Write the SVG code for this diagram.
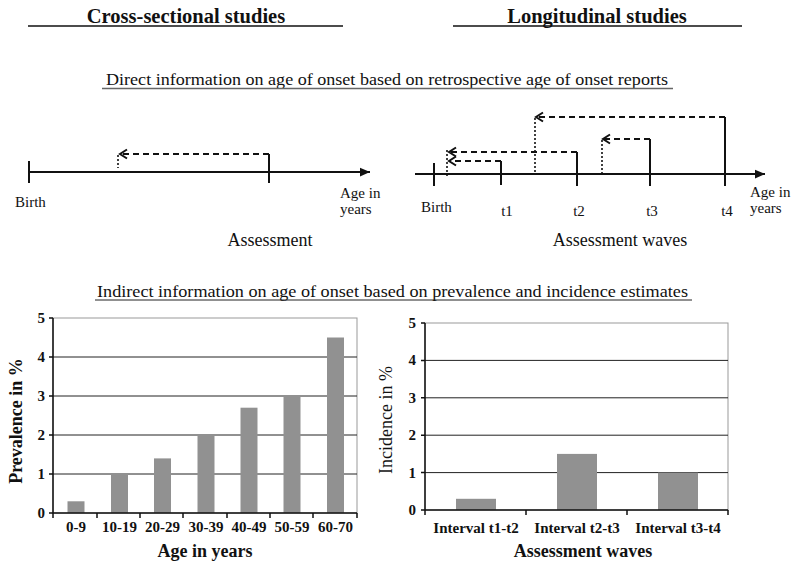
<svg xmlns="http://www.w3.org/2000/svg" width="800" height="571" viewBox="0 0 800 571" font-family="'Liberation Serif', 'Times New Roman', serif">
<style>
text{font-family:'Liberation Serif','Times New Roman',serif;fill:#111}
.title{font-size:20.5px;font-weight:bold;text-anchor:middle}
.sub{font-size:17px}
.lbl{font-size:15px}
.mid{text-anchor:middle}
.axis{stroke:#111;stroke-width:2;fill:none}
.dash{stroke:#111;stroke-width:2;stroke-dasharray:6,4;fill:none}
.dot{stroke:#111;stroke-width:1.6;stroke-dasharray:2,2;fill:none}
.grid{stroke:#222;stroke-width:1}
.frame{stroke:#999;stroke-width:1;fill:none}
.bar{fill:#919191}
.tickb{font-size:15px;font-weight:bold}
.ylab{font-size:15px;font-weight:bold;text-anchor:end}
.axt{font-size:18px;font-weight:bold;text-anchor:middle}
.cax{stroke:#111;stroke-width:1.5}
</style>
<defs>
<marker id="chev" markerUnits="userSpaceOnUse" markerWidth="12" markerHeight="12" viewBox="-8 -6 10 12" refX="0" refY="0" orient="auto" overflow="visible">
<path d="M-7,-4.5 L0,0 L-7,4.5" fill="none" stroke="#111" stroke-width="2"/>
</marker>
<marker id="tri" markerUnits="userSpaceOnUse" markerWidth="10" markerHeight="10" viewBox="-8 -4 8 8" refX="0" refY="0" orient="auto" overflow="visible">
<path d="M-8,-3.5 L0,0 L-8,3.5 Z" fill="#111"/>
</marker>
</defs>

<g id="headers">
<text class="title" x="186" y="23">Cross-sectional studies</text>
<line x1="28" y1="26" x2="343" y2="26" stroke="#111" stroke-width="1.5"/>
<text class="title" x="597" y="23">Longitudinal studies</text>
<line x1="453" y1="26" x2="742" y2="26" stroke="#111" stroke-width="1.5"/>
<text class="sub" x="106" y="85" textLength="562" lengthAdjust="spacingAndGlyphs">Direct information on age of onset based on retrospective age of onset reports</text>
<line x1="102" y1="88.5" x2="673" y2="88.5" stroke="#666" stroke-width="1.5"/>
<text class="sub" x="97" y="297" textLength="591" lengthAdjust="spacingAndGlyphs">Indirect information on age of onset based on prevalence and incidence estimates</text>
<line x1="95" y1="300" x2="692" y2="300" stroke="#222" stroke-width="1"/>
</g>

<g id="cross-timeline">
<line class="axis" x1="29" y1="172" x2="370" y2="172" marker-end="url(#tri)"/>
<line class="axis" x1="29" y1="161" x2="29" y2="183"/>
<line class="axis" x1="269" y1="154" x2="269" y2="183"/>
<text class="lbl" x="15" y="207">Birth</text>
<text class="lbl" x="340" y="198">Age in</text>
<text class="lbl" x="340" y="214">years</text>
<text class="mid" x="270" y="246" font-size="18">Assessment</text>
</g>

<g id="long-timeline">
<line class="axis" x1="415" y1="174" x2="765" y2="174" marker-end="url(#tri)"/>
<line class="axis" x1="434" y1="163" x2="434" y2="186"/>
<line class="axis" x1="501" y1="161" x2="501" y2="185"/>
<line class="axis" x1="577" y1="152" x2="577" y2="186"/>
<line class="axis" x1="650" y1="139" x2="650" y2="186"/>
<line class="axis" x1="725" y1="117" x2="725" y2="186"/>
<text class="lbl" x="421" y="212">Birth</text>
<text class="lbl mid" x="507" y="216">t1</text>
<text class="lbl mid" x="579" y="216">t2</text>
<text class="lbl mid" x="652" y="216">t3</text>
<text class="lbl mid" x="727" y="216">t4</text>
<text class="lbl" x="750" y="197">Age in</text>
<text class="lbl" x="750" y="213">years</text>
<text class="mid" x="620" y="246" font-size="18">Assessment waves</text>
</g>

<g id="connectors">
<path class="dash" d="M269,154 H120" marker-end="url(#chev)"/>
<path class="dot" d="M118,155 V168"/>
<path class="dash" d="M501,161 H449" marker-end="url(#chev)"/>
<path class="dash" d="M577,152 H449" marker-end="url(#chev)"/>
<path class="dot" d="M447,150 V178"/>
<path class="dash" d="M650,139 H603" marker-end="url(#chev)"/>
<path class="dot" d="M602,140 V173"/>
<path class="dash" d="M725,117 H536" marker-end="url(#chev)"/>
<path class="dot" d="M535,118 V173"/>
</g>

<g id="prevalence-chart">
<rect class="frame" x="53" y="318" width="304" height="195"/>
<line class="grid" x1="53" y1="474" x2="357" y2="474"/>
<line class="grid" x1="53" y1="435" x2="357" y2="435"/>
<line class="grid" x1="53" y1="396" x2="357" y2="396"/>
<line class="grid" x1="53" y1="357" x2="357" y2="357"/>
<rect class="bar" x="67.5" y="501.3" width="17" height="11.7"/>
<rect class="bar" x="111" y="474" width="17" height="39"/>
<rect class="bar" x="154" y="458.4" width="17" height="54.6"/>
<rect class="bar" x="197.5" y="435" width="17" height="78"/>
<rect class="bar" x="240.5" y="407.7" width="17" height="105.3"/>
<rect class="bar" x="283.5" y="396" width="17" height="117"/>
<rect class="bar" x="327" y="337.5" width="17" height="175.5"/>
<path class="cax" d="M53,318 V513 H357 M49,318 H53 M49,357 H53 M49,396 H53 M49,435 H53 M49,474 H53 M49,513 H53 M53,513 V518 M97,513 V518 M140,513 V518 M183,513 V518 M227,513 V518 M270,513 V518 M313,513 V518 M357,513 V518" fill="none"/>
<text class="ylab" x="45" y="323">5</text>
<text class="ylab" x="45" y="362">4</text>
<text class="ylab" x="45" y="401">3</text>
<text class="ylab" x="45" y="440">2</text>
<text class="ylab" x="45" y="479">1</text>
<text class="ylab" x="45" y="518">0</text>
<g class="tickb" text-anchor="middle">
<text x="76" y="532">0-9</text>
<text x="119.5" y="532">10-19</text>
<text x="162.5" y="532">20-29</text>
<text x="206" y="532">30-39</text>
<text x="249" y="532">40-49</text>
<text x="292" y="532">50-59</text>
<text x="335.5" y="532">60-70</text>
</g>
<text class="axt" x="205" y="557">Age in years</text>
<text class="axt" transform="translate(22,421) rotate(-90)">Prevalence in %</text>
</g>

<g id="incidence-chart">
<rect class="frame" x="425" y="323" width="303" height="187"/>
<line class="grid" x1="425" y1="472.6" x2="728" y2="472.6"/>
<line class="grid" x1="425" y1="435.2" x2="728" y2="435.2"/>
<line class="grid" x1="425" y1="397.8" x2="728" y2="397.8"/>
<line class="grid" x1="425" y1="360.4" x2="728" y2="360.4"/>
<rect class="bar" x="456" y="498.8" width="40" height="11.2"/>
<rect class="bar" x="557" y="453.9" width="40" height="56.1"/>
<rect class="bar" x="658" y="472.6" width="40" height="37.4"/>
<path class="cax" d="M425,323 V510 H728 M421,323 H425 M421,360.4 H425 M421,397.8 H425 M421,435.2 H425 M421,472.6 H425 M421,510 H425 M425,510 V515 M526,510 V515 M627,510 V515 M728,510 V515" fill="none"/>
<text class="ylab" x="416" y="328">5</text>
<text class="ylab" x="416" y="365.4">4</text>
<text class="ylab" x="416" y="402.8">3</text>
<text class="ylab" x="416" y="440.2">2</text>
<text class="ylab" x="416" y="477.6">1</text>
<text class="ylab" x="416" y="515">0</text>
<g class="tickb" text-anchor="middle">
<text x="476" y="533">Interval t1-t2</text>
<text x="577" y="533">Interval t2-t3</text>
<text x="678" y="533">Interval t3-t4</text>
</g>
<text class="axt" x="583" y="557">Assessment waves</text>
<text class="mid" font-size="18" transform="translate(392,420) rotate(-90)">Incidence in %</text>
</g>
</svg>
